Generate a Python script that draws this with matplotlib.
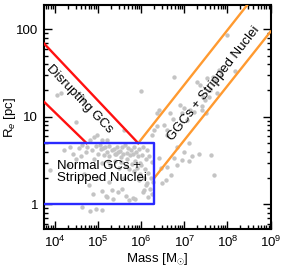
import numpy as np
import matplotlib
matplotlib.use("Agg")
import matplotlib.pyplot as plt
from matplotlib.ticker import LogLocator, FuncFormatter, NullFormatter

plt.rcParams['font.family'] = ['Liberation Sans', 'DejaVu Sans']
plt.rcParams['mathtext.fontset'] = 'custom'
plt.rcParams['mathtext.rm'] = 'Liberation Sans'
plt.rcParams['mathtext.it'] = 'Liberation Sans:italic'

# scatter points: log10(mass / Msun), log10(Re / pc)
log_mass = [
    4.05, 4.13, 4.63, 4.67, 4.48, 4.90, 4.82, 4.98, 5.09, 5.20, 5.60,
    5.99, 6.76, 6.41, 6.37, 6.29, 6.25, 6.37, 6.53, 6.91, 6.99, 6.95, 7.22,
    7.42, 7.50, 7.76, 7.80, 7.84, 7.11, 6.84, 6.60, 7.73, 7.57, 8.18, 7.98,
    7.29, 7.36, 7.52, 7.67, 7.44, 7.48, 7.60, 7.40, 6.67, 6.74, 7.05, 7.13,
    6.59, 7.34, 7.61, 7.18, 7.11, 6.76, 6.84, 6.60, 6.95, 6.68, 6.57, 6.49,
    7.69, 6.41, 6.45, 6.99, 3.88, 4.62, 4.81, 4.96, 5.10, 5.81,
    4.20, 4.35, 4.42, 4.55, 4.60, 4.62, 4.72, 4.75, 4.85, 4.90, 4.95,
    5.00, 5.04, 5.06, 5.12, 5.14, 5.16, 5.20, 5.24, 5.26, 5.32, 5.36,
    5.38, 5.42, 5.44, 5.46, 5.50, 5.52, 5.56, 5.58, 5.62, 5.66, 5.68,
    5.70, 5.74, 5.76, 5.80, 5.84, 5.86, 5.88, 5.92, 5.94, 5.96, 6.00,
    6.02, 6.04, 6.08, 6.12, 6.14, 6.16, 6.18, 6.22, 6.24, 6.28,
    5.10, 5.22, 5.28, 5.40, 5.48, 5.54, 5.64, 5.72, 5.78, 5.82, 5.90,
    5.98, 6.06, 6.10, 6.20, 6.26, 6.14, 6.06, 5.71, 5.56, 5.33, 5.21,
    5.09, 4.30, 4.48, 4.68, 4.78, 4.88, 4.98, 5.18, 5.34, 6.15, 5.95,
    5.60, 5.45, 5.65, 5.85, 6.05, 5.25,
]
log_re = [
    1.25, 1.27, 1.24, 1.19, 0.94, 0.77, 0.74, 0.79, 0.74, 0.74, 0.85,
    1.29, 1.46, 1.08, 1.04, 0.85, 0.79, 0.89, 0.91, 1.14, 1.10, 1.04, 1.06,
    1.08, 1.04, 1.27, 1.54, 1.48, 0.70, 0.66, 0.79, 1.42, 1.23, 1.52, 1.93,
    1.40, 1.36, 1.44, 1.46, 1.23, 1.19, 1.31, 1.12, 1.04, 0.98, 0.96, 1.08,
    0.85, 0.58, 0.56, 0.55, 0.49, 0.53, 0.45, 0.43, 0.51, 0.34, 0.28, 0.24,
    0.34, 0.53, 0.41, 0.60, 0.39, -0.03, -0.07, -0.05, -0.06, 0.07,
    0.62, 0.66, 0.58, 0.64, 0.55, 0.68, 0.60, 0.66, 0.62, 0.52, 0.67,
    0.58, 0.68, 0.63, 0.64, 0.56, 0.66, 0.60, 0.67, 0.55, 0.62, 0.63,
    0.58, 0.57, 0.66, 0.60, 0.61, 0.54, 0.65, 0.57, 0.68, 0.59, 0.52,
    0.64, 0.56, 0.62, 0.58, 0.66, 0.50, 0.60, 0.55, 0.63, 0.47, 0.45,
    0.56, 0.65, 0.40, 0.52, 0.62, 0.36, 0.55, 0.30, 0.48, 0.25,
    0.47, 0.50, 0.45, 0.50, 0.42, 0.48, 0.44, 0.40, 0.46, 0.38, 0.42,
    0.35, 0.30, 0.22, 0.18, 0.12, 0.24, 0.17, 0.05, 0.18, 0.17, 0.09,
    0.15, 0.45, 0.52, 0.35, 0.22, 0.12, 0.30, 0.10, 0.06, 0.08, 0.28,
    0.30, 0.14, 0.10, 0.06, 0.14, 0.26,
]

# region boundaries (mass in Msun, Re in pc)
red_upper_m = [5.5e3, 8.5e5]
red_upper_r = [69.0, 5.0]
red_lower_m = [5.5e3, 5.4e4]
red_lower_r = [14.9, 5.0]
orange_upper_m = [8.5e5, 2.9e8]
orange_upper_r = [5.0, 190.0]
orange_lower_m = [2.0e6, 1.0e9]
orange_lower_r = [2.0, 94.0]
box_m = [1.0e3, 2.0e6, 2.0e6, 1.0e3]
box_r = [1.0, 1.0, 5.0, 5.0]

fig = plt.figure(figsize=(2.83, 2.71), dpi=100)
ax = fig.add_axes([0.155, 0.154, 0.801, 0.8275])

ax.scatter(10**np.array(log_mass), 10**np.array(log_re), s=10, color='#c4c4c4',
           linewidths=0, zorder=1)

ax.plot(red_upper_m, red_upper_r, color='#ff1010', lw=1.7, zorder=3)
ax.plot(red_lower_m, red_lower_r, color='#ff1010', lw=1.7, zorder=3)
ax.plot(orange_upper_m, orange_upper_r, color='#ff9a30', lw=1.7, zorder=3)
ax.plot(orange_lower_m, orange_lower_r, color='#ff9a30', lw=1.7, zorder=3)
ax.plot(box_m, box_r, color='#2a2aff', lw=1.7, zorder=4)

ax.set_xscale('log')
ax.set_yscale('log')
ax.set_xlim(10**3.74, 1e9)
ax.set_ylim(0.52, 189)

ax.text(10**4.56, 10**1.2, 'Disrupting GCs', rotation=-46, fontsize=9.5,
        ha='center', va='center', zorder=5)
ax.text(10**7.68, 10**1.38, 'GGCs + Stripped Nuclei', rotation=52, fontsize=9.5,
        ha='center', va='center', zorder=5)
ax.text(10**4.04, 10**0.37, 'Normal GCs +\nStripped Nuclei', fontsize=9.5,
        ha='left', va='center', linespacing=1.0, zorder=5)

ax.set_xlabel(r'Mass [M$_{\odot}$]', fontsize=9.5)
ax.set_ylabel(r'R$_{e}$ [pc]', fontsize=9.5)
ax.xaxis.set_label_coords(0.5, -0.097)
ax.yaxis.set_label_coords(-0.115, 0.5)

ax.xaxis.set_major_locator(LogLocator(base=10, numticks=10))
ax.xaxis.set_minor_locator(LogLocator(base=10, subs=np.arange(2, 10), numticks=20))
ax.xaxis.set_minor_formatter(NullFormatter())
ax.yaxis.set_major_locator(LogLocator(base=10, numticks=10))
ax.yaxis.set_minor_locator(LogLocator(base=10, subs=np.arange(2, 10), numticks=20))
ax.yaxis.set_minor_formatter(NullFormatter())
ax.yaxis.set_major_formatter(FuncFormatter(lambda v, p: '%g' % v))

ax.tick_params(which='both', direction='in', top=True, right=True, width=1.0,
               labelsize=9.5, colors='black')
ax.tick_params(which='major', length=6, pad=4)
ax.tick_params(which='minor', length=3)
for s in ax.spines.values():
    s.set_linewidth(1.5)

fig.savefig('out.png', dpi=100)
